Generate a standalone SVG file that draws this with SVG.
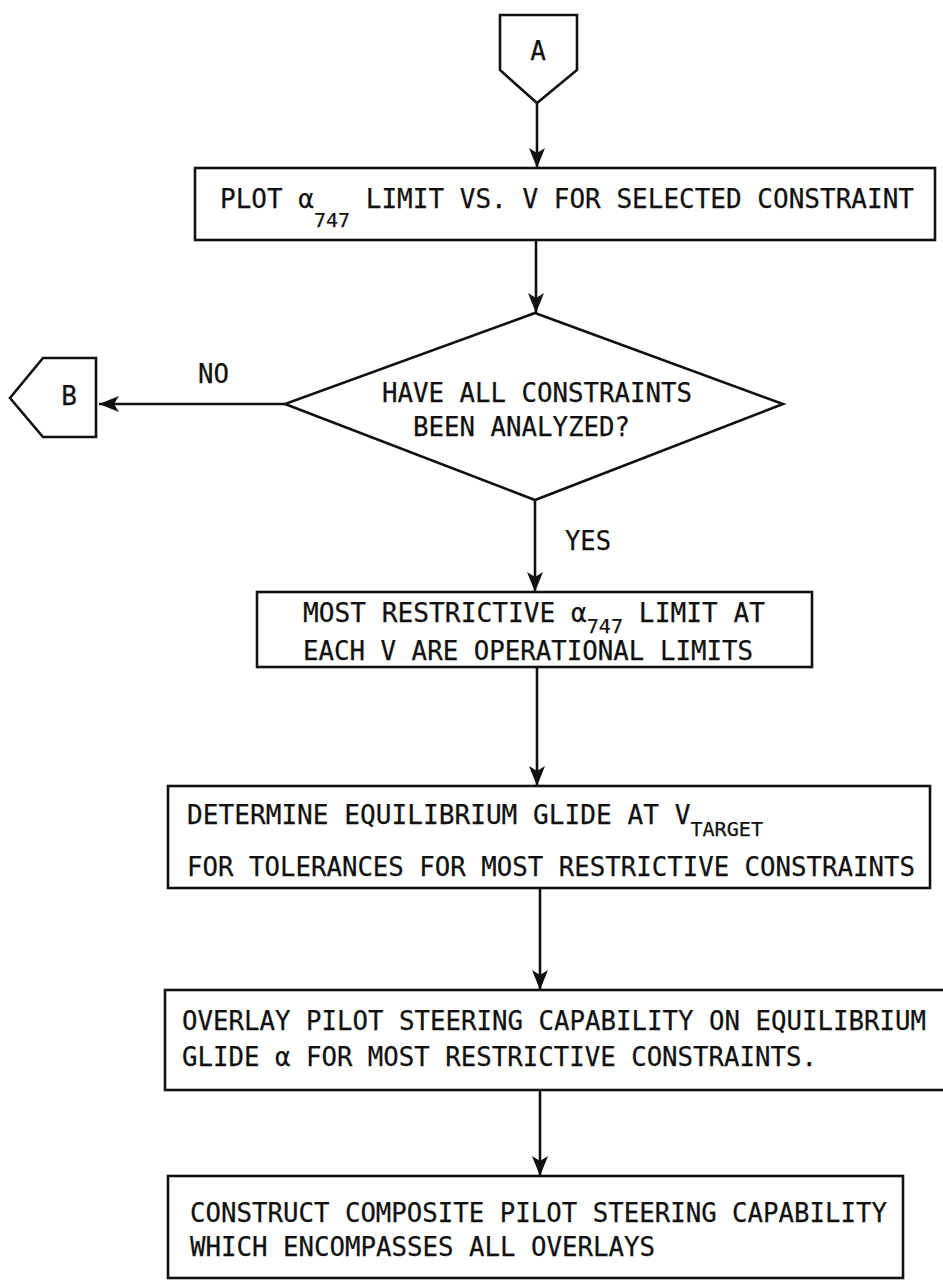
<svg xmlns="http://www.w3.org/2000/svg" width="943" height="1280" viewBox="0 0 943 1280">
<style>
.t{font-family:"DejaVu Sans Mono","Liberation Mono",monospace;font-size:26px;fill:#111;stroke:#111;stroke-width:0.25}
.s{font-size:20px}
.b{fill:#fff;stroke:#111;stroke-width:2.6}
.c{stroke:#111;stroke-width:2.6;fill:none}
</style>
<defs>
<marker id="ah" viewBox="0 0 20 16" refX="20" refY="8" markerWidth="20" markerHeight="16" markerUnits="userSpaceOnUse" orient="auto">
<path d="M20,8 L0,0 L5,8 L0,16 Z" fill="#111"/>
</marker>
</defs>
<rect width="943" height="1280" fill="#fff"/>
<g id="connectors">
<line class="c" x1="537" y1="103" x2="537" y2="168" marker-end="url(#ah)"/>
<line class="c" x1="536" y1="240" x2="536" y2="313" marker-end="url(#ah)"/>
<line class="c" x1="285" y1="404" x2="99" y2="404" marker-end="url(#ah)"/>
<line class="c" x1="535" y1="500" x2="535" y2="592" marker-end="url(#ah)"/>
<line class="c" x1="537" y1="667" x2="537" y2="786" marker-end="url(#ah)"/>
<line class="c" x1="540" y1="888" x2="540" y2="990" marker-end="url(#ah)"/>
<line class="c" x1="540" y1="1090" x2="540" y2="1176" marker-end="url(#ah)"/>
<text class="t" x="198" y="383" textLength="31" lengthAdjust="spacingAndGlyphs">NO</text>
<text class="t" x="565" y="550" textLength="46" lengthAdjust="spacingAndGlyphs">YES</text>
</g>
<g id="nodeA">
<polygon class="b" points="500,15 577,15 577,70 537,103 500,70"/>
<text class="t" x="538" y="60" text-anchor="middle">A</text>
</g>
<g id="box1">
<rect class="b" x="195" y="168" width="740" height="72"/>
<text class="t" x="220" y="208" textLength="694" lengthAdjust="spacingAndGlyphs">PLOT α<tspan class="s" dy="19">747</tspan><tspan dy="-19"> LIMIT VS. V FOR SELECTED CONSTRAINT</tspan></text>
</g>
<g id="decision">
<polygon class="b" points="535,313 783,404 535,500 285,404"/>
<text class="t" x="382" y="402" textLength="310" lengthAdjust="spacingAndGlyphs">HAVE ALL CONSTRAINTS</text>
<text class="t" x="413" y="436" textLength="217" lengthAdjust="spacingAndGlyphs">BEEN ANALYZED?</text>
</g>
<g id="nodeB">
<polygon class="b" points="96,358 96,437 43,437 10,398 43,358"/>
<text class="t" x="69" y="405" text-anchor="middle">B</text>
</g>
<g id="box2">
<rect class="b" x="257" y="592" width="555" height="75"/>
<text class="t" x="303" y="622" textLength="462" lengthAdjust="spacingAndGlyphs">MOST RESTRICTIVE α<tspan class="s" dy="11">747</tspan><tspan dy="-11"> LIMIT AT</tspan></text>
<text class="t" x="303" y="660" textLength="450" lengthAdjust="spacingAndGlyphs">EACH V ARE OPERATIONAL LIMITS</text>
</g>
<g id="box3">
<rect class="b" x="168" y="786" width="762" height="102"/>
<text class="t" x="187" y="824" textLength="576" lengthAdjust="spacingAndGlyphs">DETERMINE EQUILIBRIUM GLIDE AT V<tspan class="s" dy="12">TARGET</tspan></text>
<text class="t" x="187" y="876" textLength="728" lengthAdjust="spacingAndGlyphs">FOR TOLERANCES FOR MOST RESTRICTIVE CONSTRAINTS</text>
</g>
<g id="box4">
<rect class="b" x="165" y="990" width="780" height="100"/>
<text class="t" x="182" y="1030" textLength="744" lengthAdjust="spacingAndGlyphs">OVERLAY PILOT STEERING CAPABILITY ON EQUILIBRIUM</text>
<text class="t" x="182" y="1066" textLength="635" lengthAdjust="spacingAndGlyphs">GLIDE α FOR MOST RESTRICTIVE CONSTRAINTS.</text>
</g>
<g id="box5">
<rect class="b" x="168" y="1176" width="735" height="102"/>
<text class="t" x="190" y="1222" textLength="697" lengthAdjust="spacingAndGlyphs">CONSTRUCT COMPOSITE PILOT STEERING CAPABILITY</text>
<text class="t" x="190" y="1256" textLength="465" lengthAdjust="spacingAndGlyphs">WHICH ENCOMPASSES ALL OVERLAYS</text>
</g>
</svg>
